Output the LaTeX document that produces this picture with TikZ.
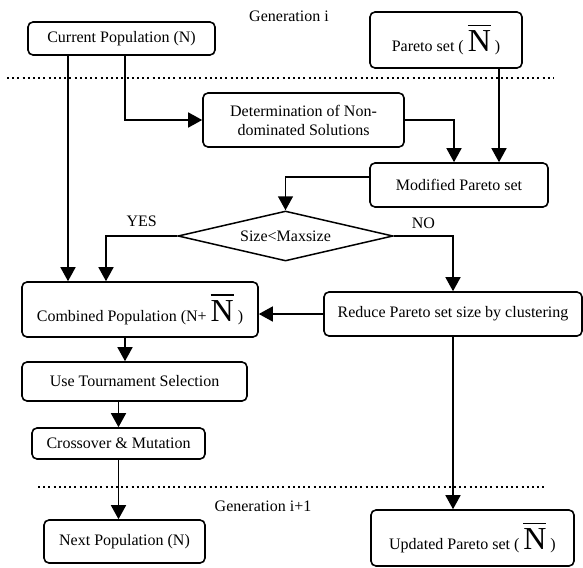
\documentclass[tikz,border=0pt]{standalone}
\usepackage{fontspec}
\setmainfont{Liberation Serif}
\usetikzlibrary{arrows.meta,shapes.geometric}

\newcommand{\Nbar}{{\fontsize{32}{32}\selectfont\setbox0\hbox{N}%
  \rlap{\raisebox{\dimexpr\ht0+5pt\relax}{\rule{\wd0}{1.4pt}}}N}}

\tikzset{
  box/.style={draw, rounded corners=5pt, line width=1.6pt, align=center, inner sep=0pt},
  arr/.style={line width=1.5pt, -{Triangle[length=14pt,width=15pt]}},
  sep/.style={line width=2pt, dash pattern=on 2pt off 3.2pt}
}

\begin{document}
\begin{tikzpicture}[x=1pt, y=-1pt, font=\fontsize{16}{19}\selectfont]
      \useasboundingbox (0,0) rectangle (583,567);
      % generation i
      \node (gen) at (289,16) {Generation i};
      \node[box, minimum width=187pt, minimum height=33pt] (cur) at (121.5,38.5) {Current Population (N)};
      \node[box, minimum width=152pt, minimum height=56pt] (pareto) at (446,40) {Pareto set ( \Nbar\ )};
      \draw[sep] (7,78) -- (554,78);
      \node[box, minimum width=201pt, minimum height=54pt] (det) at (303.5,120) {Determination of Non-\\dominated Solutions};
      \node[box, minimum width=178pt, minimum height=44pt] (mod) at (459,185) {Modified Pareto set};
      \node[draw, shape=diamond, aspect=4.3, inner sep=0pt, line width=1.5pt,
            minimum width=215pt, minimum height=50pt] (dec) at (285.5,236) {Size<Maxsize};
      \node[box, minimum width=236pt, minimum height=55pt] (comb) at (140,309.5) {Combined Population (N+ \Nbar\ )};
      \node[box, minimum width=258pt, minimum height=44pt] (red) at (453,314) {Reduce Pareto set size by clustering};
      \node[box, minimum width=225pt, minimum height=39pt] (tour) at (134.5,381.5) {Use Tournament Selection};
      \node[box, minimum width=173pt, minimum height=31pt] (cross) at (118.5,443.5) {Crossover \& Mutation};
      % generation i+1
      \draw[sep] (38,487) -- (546,487);
      \node (gennext) at (263,506) {Generation i+1};
      \node[box, minimum width=161pt, minimum height=43pt] (next) at (124.5,541.5) {Next Population (N)};
      \node[box, minimum width=203pt, minimum height=56pt] (upd) at (472.5,538) {Updated Pareto set ( \Nbar\ )};

      \draw[arr] ([xshift=-53.5pt]cur.south) -- ([xshift=-53.5pt]cur.south |- comb.north);
      \draw[arr] ([xshift=3.5pt]cur.south) |- (det.west);
      \draw[arr] (det.east) -| ([xshift=-5pt]mod.north);
      \draw[arr] ([xshift=53pt]pareto.south) -- ([xshift=53pt]pareto.south |- mod.north);
      \draw[arr] ([yshift=8pt]mod.west) -| (dec.north);
      \draw[arr] (dec.west) -| node[pos=0.25, above=5pt] {YES} ([xshift=-34pt]comb.north);
      \draw[arr] (dec.east) -| node[pos=0.25, above=3pt] {NO} (red.north);
      \draw[arr] (red.west) -- (red.west -| comb.east);
      \draw[arr] (red.south) -- (red.south |- upd.north);
      \draw[arr] ([xshift=-15pt]comb.south) -- ([xshift=-15pt]comb.south |- tour.north);
      \draw[arr] (tour.south -| cross.north) -- (cross.north);
      \draw[arr] (cross.south) -- (cross.south |- next.north);
\end{tikzpicture}
\end{document}
